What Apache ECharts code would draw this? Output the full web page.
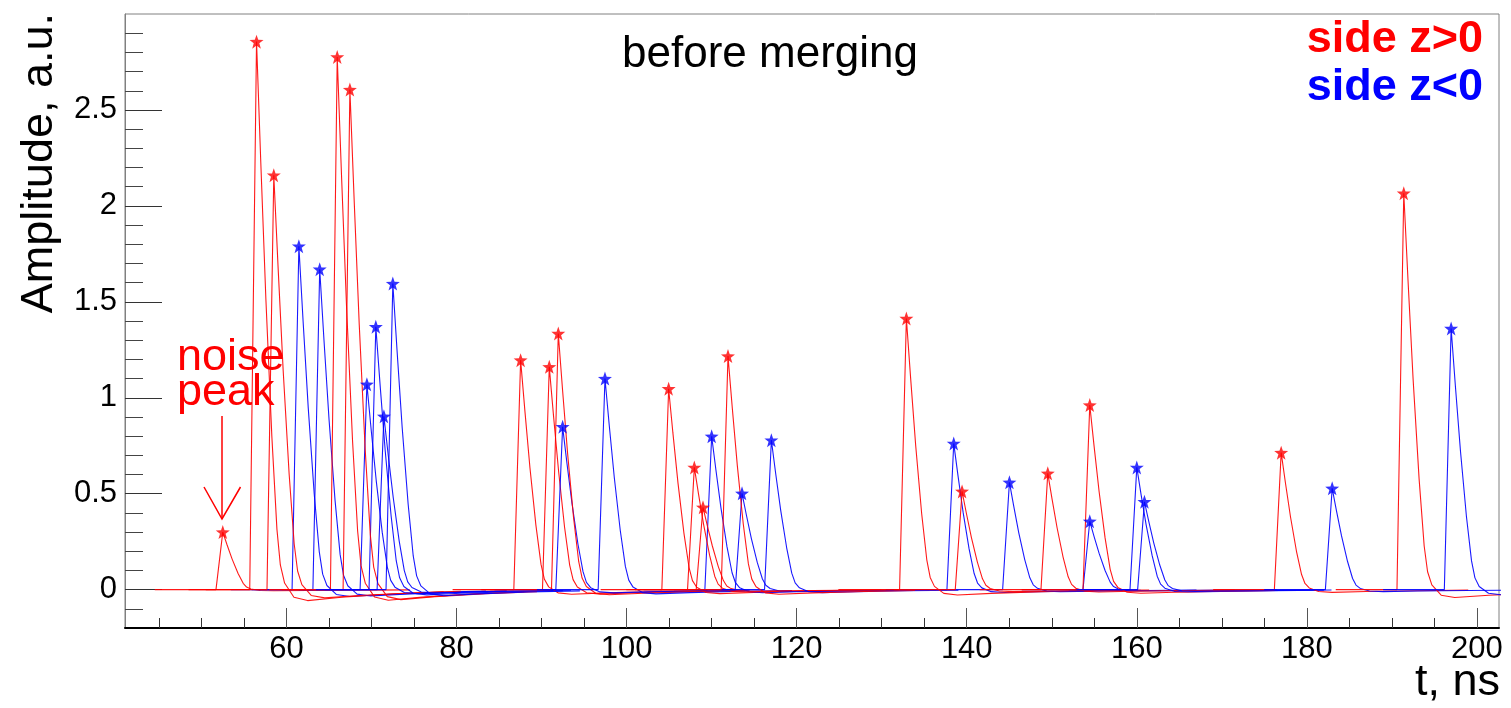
<!DOCTYPE html>
<html>
<head>
<meta charset="utf-8">
<script src="https://cdn.jsdelivr.net/npm/echarts@6/dist/echarts.min.js"></script>
<style>
html,body{margin:0;padding:0;background:#fff;}
#chart{width:1511px;height:708px;}
</style>
</head>
<body>
<div id="chart"></div>
<script>
// ---- data ----
// side z>0 (red) pulse peaks: time (ns) and amplitude (a.u.)
const redT = [52.5, 56.47, 58.5, 65.96, 67.45, 87.53, 90.9, 91.96, 104.94, 107.96, 108.98, 111.92, 132.9, 139.45, 149.53, 154.47, 176.98, 191.4];
const redA = [0.30, 2.856, 2.16, 2.776, 2.606, 1.196, 1.161, 1.335, 1.047, 0.637, 0.429, 1.217, 1.413, 0.512, 0.606, 0.962, 0.714, 2.066];
// side z<0 (blue) pulse peaks
const blueT = [61.45, 63.9, 69.45, 70.5, 71.45, 72.5, 92.47, 97.45, 110.0, 113.57, 117.02, 138.47, 145.02, 154.47, 160.0, 160.9, 182.98, 196.97];
const blueA = [1.79, 1.67, 1.07, 1.37, 0.903, 1.595, 0.849, 1.10, 0.799, 0.502, 0.779, 0.762, 0.559, 0.356, 0.637, 0.458, 0.528, 1.361];
// common pulse shape: time offset from peak (ns) and fraction of peak
const shapeDt   = [-8, -0.8, -0.4, 0, 0.5, 1.1, 1.8, 2.4, 2.8, 3.3, 4.4, 6, 10, 16, 22];
const shapeFrac = [0, 0, 0.5, 1, 0.78, 0.53, 0.28, 0.11, 0.045, 0.012, -0.014, -0.02, -0.014, -0.008, -0.004];
// axis ticks
const xMajor = [60, 80, 100, 120, 140, 160, 180, 200];
const xMinor = [45, 50, 55, 65, 70, 75, 85, 90, 95, 105, 110, 115, 125, 130, 135, 145, 150, 155, 165, 170, 175, 185, 190, 195];
const yMajor = [0, 0.5, 1, 1.5, 2, 2.5];
const yMinor = [-0.1, 0.1, 0.2, 0.3, 0.4, 0.6, 0.7, 0.8, 0.9, 1.1, 1.2, 1.3, 1.4, 1.6, 1.7, 1.8, 1.9, 2.1, 2.2, 2.3, 2.4, 2.6, 2.7, 2.8, 2.9];

const X_MIN = 41, X_MAX = 202.6, Y_MIN = -0.2, Y_MAX = 3.0;
const FONT = '"Liberation Sans", Arial, Helvetica, sans-serif';
const RED = '#ff0000', BLUE = '#0000ff';
const STAR = 'path://M0,-10 L2.35,-3.24 L9.51,-3.09 L3.8,1.24 L5.88,8.09 L0,4 L-5.88,8.09 L-3.8,1.24 L-9.51,-3.09 L-2.35,-3.24 Z';

function pulse(t0, a) {
  return shapeDt.map((d, i) => [t0 + d, a * shapeFrac[i]]);
}

const series = [];
const n = Math.max(redT.length, blueT.length);
for (let i = 0; i < n; i++) {
  if (i < redT.length) series.push({
    type: 'line', data: pulse(redT[i], redA[i]), showSymbol: false, symbol: 'none',
    lineStyle: {color: RED, width: 1.1, opacity: 0.9}, silent: true, z: 2, clip: true
  });
  if (i < blueT.length) series.push({
    type: 'line', data: pulse(blueT[i], blueA[i]), showSymbol: false, symbol: 'none',
    lineStyle: {color: BLUE, width: 1.1, opacity: 0.9}, silent: true, z: 2, clip: true
  });
}
series.push({
  type: 'scatter', data: redT.map((t, i) => [t, redA[i]]), symbol: STAR, symbolSize: 14,
  itemStyle: {color: RED}, z: 5, silent: true
});
series.push({
  type: 'scatter', data: blueT.map((t, i) => [t, blueA[i]]), symbol: STAR, symbolSize: 14,
  itemStyle: {color: BLUE}, z: 5, silent: true
});

const chart = echarts.init(document.getElementById('chart'), null, {renderer: 'canvas'});
const labelStyle = {color: '#000', fontFamily: FONT, fontSize: 31};
chart.setOption({
  animation: false,
  backgroundColor: '#fff',
  grid: {left: 125, right: 12, top: 14, bottom: 80, show: true, borderColor: '#808080', borderWidth: 1,
         containLabel: false, outerBoundsMode: 'none'},
  xAxis: [
    {type: 'value', min: X_MIN, max: X_MAX, position: 'bottom', gridIndex: 0,
     splitLine: {show: false},
     axisLine: {show: true, onZero: false, lineStyle: {color: '#000', width: 2}},
     axisTick: {show: true, inside: true, length: 20, customValues: xMajor, lineStyle: {color: '#555', width: 1}},
     axisLabel: Object.assign({show: true, margin: 6, customValues: xMajor, formatter: v => String(v)}, labelStyle)},
    {type: 'value', min: X_MIN, max: X_MAX, position: 'bottom', gridIndex: 0, offset: 0,
     splitLine: {show: false},
     axisLine: {show: false, onZero: false},
     axisTick: {show: true, inside: true, length: 10, customValues: xMinor, lineStyle: {color: '#333', width: 1}},
     axisLabel: {show: false}}
  ],
  yAxis: [
    {type: 'value', min: Y_MIN, max: Y_MAX, position: 'left', gridIndex: 0,
     splitLine: {show: false},
     axisLine: {show: true, onZero: false, lineStyle: {color: '#808080', width: 1}},
     axisTick: {show: true, inside: true, length: 37, customValues: yMajor, lineStyle: {color: '#333', width: 1}},
     axisLabel: Object.assign({show: true, margin: 8, customValues: yMajor, formatter: v => String(v)}, labelStyle)},
    {type: 'value', min: Y_MIN, max: Y_MAX, position: 'left', gridIndex: 0, offset: 0,
     splitLine: {show: false},
     axisLine: {show: false, onZero: false},
     axisTick: {show: true, inside: true, length: 18, customValues: yMinor, lineStyle: {color: '#444', width: 1}},
     axisLabel: {show: false}}
  ],
  series: series,
  graphic: [
    {type: 'text', x: 770, y: 55, style: {text: 'before merging', font: '44px ' + FONT, fill: '#000', align: 'center', verticalAlign: 'middle'}},
    {type: 'text', x: 1483, y: 40, style: {text: 'side z>0', font: 'bold 45px ' + FONT, fill: RED, align: 'right', verticalAlign: 'middle'}},
    {type: 'text', x: 1483, y: 88, style: {text: 'side z<0', font: 'bold 45px ' + FONT, fill: BLUE, align: 'right', verticalAlign: 'middle'}},
    {type: 'text', x: 177, y: 358, style: {text: 'noise', font: '45px ' + FONT, fill: RED, align: 'left', verticalAlign: 'middle'}},
    {type: 'text', x: 177, y: 393, style: {text: 'peak', font: '45px ' + FONT, fill: RED, align: 'left', verticalAlign: 'middle'}},
    {type: 'polyline', shape: {points: [[222, 416], [222, 519]]}, style: {stroke: RED, lineWidth: 1.5, fill: null}},
    {type: 'polyline', shape: {points: [[204, 487], [222, 519], [240.5, 487]]}, style: {stroke: RED, lineWidth: 1.5, fill: null}},
    {type: 'text', x: 1500, y: 683, style: {text: 't, ns', font: '45px ' + FONT, fill: '#000', align: 'right', verticalAlign: 'middle'}},
    {type: 'text', x: 40, y: 13, rotation: Math.PI / 2, style: {text: 'Amplitude, a.u.', font: '45px ' + FONT, fill: '#000', align: 'right', verticalAlign: 'middle'}}
  ]
});
</script>
</body>
</html>
